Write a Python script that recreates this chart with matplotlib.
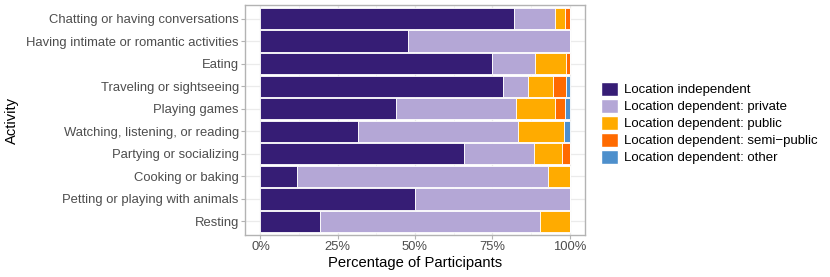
import matplotlib
matplotlib.use("Agg")
import matplotlib.pyplot as plt
from matplotlib.patches import Patch
import numpy as np

plt.rcParams['font.family'] = ['Liberation Sans', 'DejaVu Sans']

activities = [
    "Chatting or having conversations",
    "Having intimate or romantic activities",
    "Eating",
    "Traveling or sightseeing",
    "Playing games",
    "Watching, listening, or reading",
    "Partying or socializing",
    "Cooking or baking",
    "Petting or playing with animals",
    "Resting",
]
series_names = [
    "Location independent",
    "Location dependent: private",
    "Location dependent: public",
    "Location dependent: semi\u2212public",
    "Location dependent: other",
]
independent = [0.820, 0.476, 0.750, 0.784, 0.437, 0.315, 0.659, 0.119, 0.500, 0.193]
private     = [0.132, 0.524, 0.137, 0.082, 0.391, 0.519, 0.227, 0.810, 0.500, 0.711]
public      = [0.033, 0.000, 0.101, 0.080, 0.124, 0.148, 0.090, 0.071, 0.000, 0.096]
semipublic  = [0.015, 0.000, 0.012, 0.041, 0.032, 0.000, 0.024, 0.000, 0.000, 0.000]
other       = [0.000, 0.000, 0.000, 0.013, 0.016, 0.018, 0.000, 0.000, 0.000, 0.000]
colors = ["#361d75", "#b4a7d6", "#ffab00", "#ff6a00", "#4d8fcc"]

xticks = [0, 0.25, 0.5, 0.75, 1.0]
xtick_labels = ["0%", "25%", "50%", "75%", "100%"]

W, H = 830, 277
fig = plt.figure(figsize=(W / 100, H / 100), dpi=100)
left, right, top, bottom = 245, 585, 5, 235
ax = fig.add_axes([left / W, 1 - bottom / H, (right - left) / W, (bottom - top) / H])

y = np.arange(len(activities))[::-1]
data = [independent, private, public, semipublic, other]
cum = np.zeros(len(activities))
for vals, c, name in zip(data, colors, series_names):
    vals = np.array(vals)
    ax.barh(y, vals, left=cum, height=0.94, color=c, edgecolor="white", linewidth=0.6, label=name, zorder=3)
    cum += vals

ax.set_xlim(-0.05, 1.05)
ax.set_ylim(-0.6, len(activities) - 0.4)
ax.set_yticks(y)
ax.set_yticklabels(activities)
ax.set_xticks(xticks)
ax.set_xticklabels(xtick_labels)
ax.set_xticks(np.arange(0.125, 1.0, 0.25), minor=True)
ax.grid(True, which="major", color="#ebebeb", linewidth=0.9, zorder=0)
ax.grid(True, which="minor", axis="x", color="#f2f2f2", linewidth=0.5, zorder=0)
ax.set_axisbelow(True)
for s in ax.spines.values():
    s.set_color("#b3b3b3")
    s.set_linewidth(1.0)
ax.tick_params(axis="both", which="major", colors="#b3b3b3", length=3, width=0.8,
               labelcolor="#4d4d4d", labelsize=9.4, pad=1.5)
ax.tick_params(axis="both", which="minor", length=0)
ax.set_xlabel("Percentage of Participants", fontsize=10.6, color="black", labelpad=2)
ax.set_ylabel("Activity", fontsize=10.6, color="black", labelpad=5)

handles = [Patch(facecolor=c, edgecolor="white", label=n) for c, n in zip(colors, series_names)]
fig.legend(handles=handles, loc="center left", bbox_to_anchor=(601 / W, 1 - 123 / H),
           frameon=False, fontsize=9.5, handlelength=1.3, handleheight=1.3,
           handletextpad=0.45, labelspacing=0.18, borderaxespad=0, borderpad=0)

fig.savefig("out.png", dpi=100)
